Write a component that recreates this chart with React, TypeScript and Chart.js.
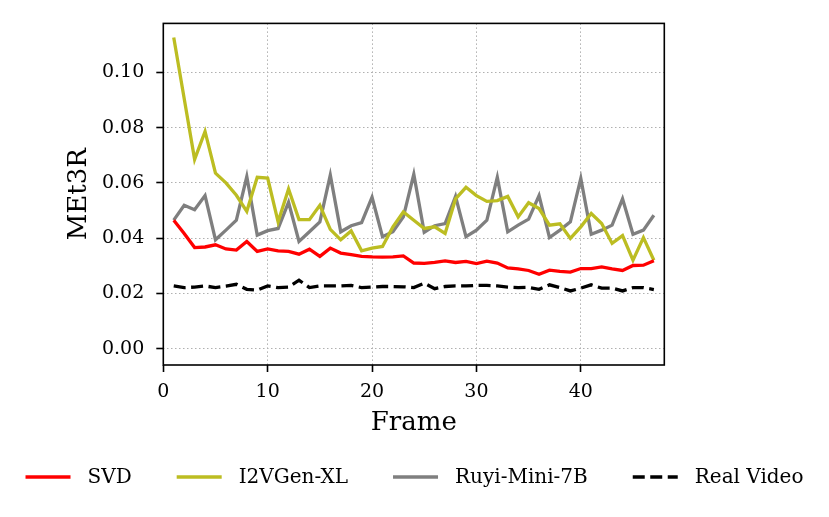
import React, { useEffect, useRef } from "react";
import { Chart, registerables } from "chart.js";

Chart.register(...registerables);

const frames = [
  1, 2, 3, 4, 5, 6, 7, 8, 9, 10, 11, 12, 13, 14, 15, 16, 17, 18, 19, 20, 21, 22, 23, 24,
  25, 26, 27, 28, 29, 30, 31, 32, 33, 34, 35, 36, 37, 38, 39, 40, 41, 42, 43, 44, 45, 46, 47,
];

const svd = [
  0.0465, 0.0417, 0.0366, 0.0368, 0.0376, 0.0361, 0.0357, 0.0388, 0.0352, 0.0361,
  0.0354, 0.0352, 0.0342, 0.036, 0.0334, 0.0364, 0.0346, 0.034, 0.0334, 0.0332,
  0.0331, 0.0332, 0.0336, 0.031, 0.0309, 0.0312, 0.0318, 0.0312, 0.0316, 0.0308,
  0.0317, 0.031, 0.0292, 0.0289, 0.0283, 0.0269, 0.0284, 0.028, 0.0277, 0.029,
  0.029, 0.0296, 0.0289, 0.0283, 0.0301, 0.0302, 0.0318,
];

const i2vgen = [
  0.1126, 0.0905, 0.0685, 0.0786, 0.0635, 0.06, 0.0555, 0.0497, 0.062, 0.0617,
  0.0459, 0.0578, 0.0467, 0.0467, 0.0519, 0.0432, 0.0394, 0.0426, 0.0354, 0.0364,
  0.037, 0.0441, 0.0495, 0.0465, 0.0435, 0.0441, 0.0417, 0.0542, 0.0584, 0.0554,
  0.0533, 0.0536, 0.0551, 0.0477, 0.0528, 0.0507, 0.0447, 0.0452, 0.0399, 0.0441,
  0.0489, 0.0453, 0.0381, 0.0409, 0.032, 0.0402, 0.032,
];

const ruyi = [
  0.0465, 0.0519, 0.0503, 0.0554, 0.0394, 0.0429, 0.0465, 0.0623, 0.0411, 0.0427,
  0.0435, 0.053, 0.0388, 0.0423, 0.0459, 0.0628, 0.0423, 0.0445, 0.0456, 0.0548,
  0.0405, 0.0423, 0.0477, 0.0631, 0.0421, 0.0445, 0.0453, 0.0551, 0.0405, 0.0429,
  0.0465, 0.062, 0.0423, 0.0447, 0.0469, 0.0554, 0.0402, 0.0429, 0.0459, 0.0616,
  0.0414, 0.0429, 0.0447, 0.0542, 0.0414, 0.0429, 0.0483,
];

const realVideo = [
  0.0227, 0.0221, 0.0223, 0.0227, 0.0221, 0.0226, 0.0233, 0.0215, 0.0212, 0.0227,
  0.0221, 0.0223, 0.0248, 0.0221, 0.0227, 0.0227, 0.0227, 0.0229, 0.0221, 0.0223,
  0.0225, 0.0225, 0.0224, 0.0221, 0.0237, 0.0217, 0.0225, 0.0227, 0.0227, 0.0229,
  0.0229, 0.0227, 0.0223, 0.0221, 0.0222, 0.0215, 0.0231, 0.0221, 0.0209, 0.0219,
  0.0231, 0.0219, 0.0219, 0.0209, 0.0221, 0.0221, 0.0214,
];

const seriesNames = ["SVD", "I2VGen-XL", "Ruyi-Mini-7B", "Real Video"];
const xTicks = [0, 10, 20, 30, 40];
const yTicks = [0, 0.02, 0.04, 0.06, 0.08, 0.1];

const FONT = "'DejaVu Serif', serif";

const framePlugin = {
  id: "frameBox",
  afterDatasetsDraw(chart: any) {
    const { ctx, chartArea } = chart;
    const { left, top, right, bottom } = chartArea;
    ctx.save();
    ctx.strokeStyle = "#000";
    ctx.lineWidth = 1.6;
    ctx.strokeRect(left, top, right - left, bottom - top);
    ctx.restore();
  },
};

// Single-row legend below the axes (matplotlib-like spacing)
const legendPlugin = {
  id: "bottomLegend",
  afterDraw(chart: any) {
    const { ctx } = chart;
    const handle = 45;
    const gap = 17;
    const spacing = 45;
    const y = chart.height - 40;
    ctx.save();
    ctx.font = `20px ${FONT}`;
    const items = chart.data.datasets.map((ds: any) => ({ ds, w: ctx.measureText(ds.label).width }));
    const total =
      items.reduce((a: number, it: any) => a + handle + gap + it.w, 0) + spacing * (items.length - 1);
    let x = (chart.width - total) / 2;
    items.forEach(({ ds, w }: any) => {
      ctx.beginPath();
      ctx.setLineDash(ds.borderDash || []);
      ctx.lineWidth = ds.borderWidth;
      ctx.strokeStyle = ds.borderColor;
      ctx.lineCap = "butt";
      ctx.moveTo(x, y);
      ctx.lineTo(x + handle, y);
      ctx.stroke();
      ctx.setLineDash([]);
      ctx.fillStyle = "#000";
      ctx.textBaseline = "middle";
      ctx.textAlign = "left";
      ctx.fillText(ds.label, x + handle + gap, y + 1);
      x += handle + gap + w + spacing;
    });
    ctx.restore();
  },
};

function toPoints(vals: number[]) {
  return vals.map((v, i) => ({ x: frames[i], y: v }));
}

export default function App() {
  const canvasRef = useRef<HTMLCanvasElement | null>(null);

  useEffect(() => {
    document.body.style.margin = "0";
    const canvas = canvasRef.current;
    if (!canvas) return;

    const mk = (label: string, data: number[], color: string, dash: number[] = []) => ({
      label,
      data: toPoints(data),
      borderColor: color,
      backgroundColor: color,
      borderWidth: 3.3,
      borderDash: dash,
      borderCapStyle: "butt" as const,
      pointRadius: 0,
      pointHoverRadius: 0,
      tension: 0,
      fill: false,
    });

    const gridOpts = {
      color: "#b0b0b0",
      lineWidth: 1,
      drawTicks: true,
      tickLength: 7,
      tickColor: "#000",
      tickWidth: 1.6,
      tickBorderDash: [],
    };

    const chart = new Chart(canvas, {
      type: "line",
      data: {
        datasets: [
          mk(seriesNames[0], svd, "#ff0000"),
          mk(seriesNames[1], i2vgen, "#bcbd22"),
          mk(seriesNames[2], ruyi, "#7f7f7f"),
          mk(seriesNames[3], realVideo, "#000000", [12, 5.5]),
        ],
      },
      options: {
        animation: false,
        responsive: false,
        devicePixelRatio: 1,
        layout: { padding: { top: 19, left: 0, right: 0, bottom: 72 } },
        font: { family: FONT },
        plugins: {
          tooltip: { enabled: false },
          legend: { display: false },
        },
        scales: {
          x: {
            type: "linear",
            min: 0,
            max: 48,
            afterBuildTicks: (s: any) => {
              s.ticks = xTicks.map((v) => ({ value: v }));
            },
            afterFit: (s: any) => {
              s.height = 80;
            },
            ticks: {
              autoSkip: false,
              maxRotation: 0,
              padding: 9,
              color: "#000",
              font: { family: FONT, size: 19 },
              callback: (v: any) => String(v),
            },
            grid: gridOpts,
            border: { display: false, dash: [1.5, 2.5] },
            title: {
              display: true,
              text: "Frame",
              color: "#000",
              font: { family: FONT, size: 26 },
              padding: { top: 0, bottom: 6.4 },
            },
          },
          y: {
            type: "linear",
            position: "left",
            min: -0.0059,
            max: 0.1177,
            afterBuildTicks: (s: any) => {
              s.ticks = yTicks.map((v) => ({ value: v }));
            },
            afterFit: (s: any) => {
              s.width = 163.3;
            },
            ticks: {
              autoSkip: false,
              padding: 12,
              color: "#000",
              font: { family: FONT, size: 19 },
              callback: (v: any) => Number(v).toFixed(2),
            },
            grid: gridOpts,
            border: { display: false, dash: [1.5, 2.5] },
            title: {
              display: true,
              text: "MEt3R",
              color: "#000",
              font: { family: FONT, size: 26 },
              padding: { top: 64, bottom: 0 },
            },
          },
          yRight: {
            type: "linear",
            position: "right",
            display: true,
            ticks: { display: false },
            grid: { display: false, drawTicks: false },
            border: { display: false },
            afterFit: (s: any) => {
              s.width = 164.7;
            },
          },
        },
      } as any,
      plugins: [framePlugin, legendPlugin],
    });

    return () => {
      chart.destroy();
    };
  }, []);

  return (
    <div style={{ width: 829, height: 517, position: "relative" }}>
      <canvas ref={canvasRef} width={829} height={517} />
    </div>
  );
}
